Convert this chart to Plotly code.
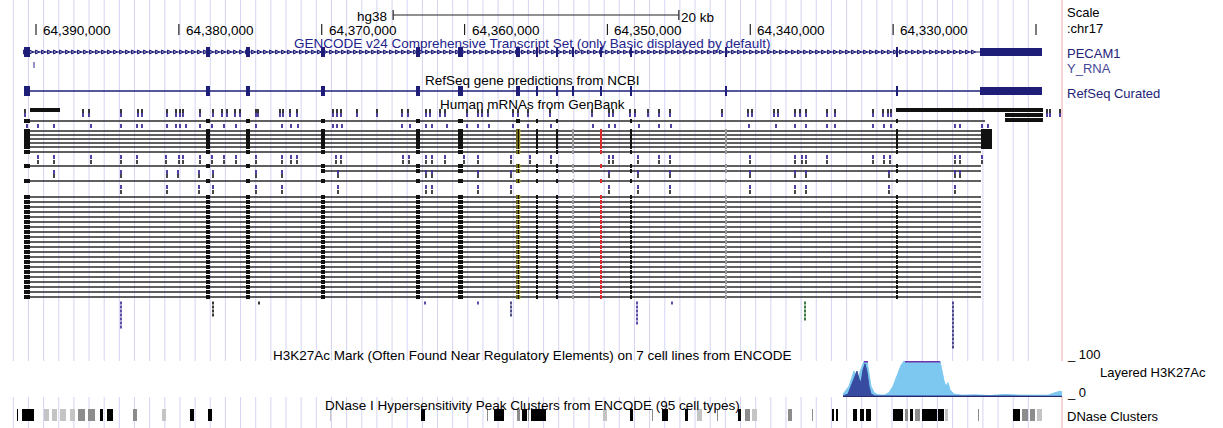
import numpy as np
import plotly.graph_objects as go

W, H = 1223, 428
FONT = "Liberation Sans, Arial, sans-serif"

# ---------------- data (genomic positions in kb on chr17) ----------------
position_ticks_kb = [64390, 64380, 64370, 64360, 64350, 64340, 64330, 64320]
position_tick_labels = ["64,390,000", "64,380,000", "64,370,000", "64,360,000",
                        "64,350,000", "64,340,000", "64,330,000", ""]
scale_bar_kb = [64365.0, 64345.0]

gene_span_kb = [64390.84, 64319.58]
gene_exon_start = [64390.84, 64378.10, 64375.30, 64370.05, 64363.40, 64360.46, 64356.40,
                   64355.00, 64353.60, 64352.48, 64350.52, 64348.42, 64341.77, 64329.80]
gene_exon_end = [64390.42, 64377.82, 64375.02, 64369.77, 64363.12, 64360.11, 64356.12,
                 64354.86, 64353.46, 64352.34, 64350.38, 64348.28, 64341.63, 64329.66]
gene_block_kb = [64323.92, 64319.58]
y_rna_kb = [64390.20, 64390.08]

mrna_exon_start = [64390.84, 64378.10, 64375.30, 64370.05, 64363.40, 64360.46, 64356.40,
                   64355.00, 64353.60, 64348.42, 64329.80]
mrna_exon_end = [64390.42, 64377.82, 64375.02, 64369.77, 64363.12, 64360.11, 64356.12,
                 64354.86, 64353.46, 64348.28, 64329.66]
mrna_red_kb = [64350.52, 64350.38]
mrna_gray_start = [64352.48, 64341.77]
mrna_gray_end = [64352.34, 64341.63]
mrna_yellow_start = [64356.36, 64356.16]
mrna_yellow_end = [64356.30, 64356.10]
mrna_line_end_kb = 64323.85
mrna_end_block_kb = [64323.85, 64323.08]
mrna_top_bars_start = [64390.42, 64329.80, 64322.17, 64322.17]
mrna_top_bars_end = [64388.32, 64319.51, 64319.51, 64319.51]

marks_row_a = [64390.77, 64386.71, 64386.29, 64384.05, 64382.86, 64382.58, 64380.83, 64380.20,
               64379.92, 64379.71, 64378.52, 64377.61, 64376.98, 64376.63, 64376.07, 64375.72,
               64374.60, 64374.46, 64372.92, 64372.71, 64372.22, 64371.73, 64369.21, 64368.93,
               64368.65, 64367.53, 64366.13, 64364.38, 64363.96, 64362.70, 64362.42, 64361.72,
               64361.37, 64359.83, 64359.06, 64358.78, 64358.36, 64356.61, 64356.26, 64355.56,
               64354.02, 64351.08, 64349.89, 64349.61, 64348.42, 64348.07, 64347.16, 64346.39,
               64345.62, 64341.98, 64340.16, 64339.88, 64338.34, 64338.06, 64336.87, 64336.52,
               64336.10, 64334.63, 64334.07, 64331.41, 64330.71, 64330.36, 64330.15, 64319.23,
               64319.02, 64318.32]
marks_row_b = [64390.63, 64389.86, 64388.74, 64386.15, 64384.05, 64382.93, 64382.58, 64380.83,
               64380.20, 64379.92, 64379.50, 64378.52, 64377.68, 64376.84, 64376.00, 64374.60,
               64372.78, 64372.15, 64371.66, 64369.21, 64368.93, 64368.58, 64364.38, 64363.82,
               64362.70, 64362.28, 64361.23, 64359.83, 64359.06, 64358.29, 64356.61, 64355.56,
               64353.95, 64351.01, 64349.89, 64349.47, 64347.79, 64346.39, 64345.55, 64340.09,
               64338.20, 64336.87, 64336.10, 64334.63, 64334.07, 64331.41, 64330.64, 64330.15,
               64325.67, 64325.32, 64323.78, 64323.36]
marks_row_c = [64389.86, 64388.74, 64386.15, 64384.05, 64382.93, 64380.90, 64379.99, 64379.71,
               64378.52, 64377.68, 64376.84, 64376.00, 64374.60, 64372.78, 64372.15, 64371.73,
               64369.00, 64368.65, 64364.31, 64363.89, 64362.70, 64362.28, 64361.37, 64360.04,
               64359.06, 64356.75, 64355.42, 64353.95, 64349.89, 64349.61, 64347.86, 64346.39,
               64345.62, 64340.02, 64336.87, 64336.38, 64336.10, 64334.63, 64331.41, 64330.64,
               64330.22, 64325.67, 64325.32, 64323.78]
marks_row_d = [64388.74, 64384.05, 64380.83, 64380.06, 64378.59, 64377.61, 64374.60, 64372.78,
               64368.86, 64362.70, 64362.28, 64359.06, 64356.75, 64349.89, 64347.86, 64345.62,
               64340.02, 64336.87, 64336.10, 64330.29, 64325.67, 64325.32]
marks_row_e = [64384.05, 64380.83, 64378.59, 64377.61, 64374.60, 64372.78, 64368.86, 64362.70,
               64362.28, 64359.06, 64356.75, 64349.89, 64347.86, 64345.62, 64340.02, 64336.87,
               64336.10, 64330.29, 64325.67]
stack_kb = [64384.05, 64377.61, 64374.39, 64362.77, 64359.06, 64356.75, 64347.93, 64345.48,
            64336.17, 64325.81]
stack_count = [7, 4, 1, 1, 1, 4, 6, 1, 5, 12]
stack_color = ["#4b3aa0", "#222222", "#222222", "#4b3aa0", "#4b3aa0", "#3a3a7a", "#4b3aa0",
               "#4b3aa0", "#2f6a2f", "#3d3580"]

h3k27ac_light_kb = [64333.51, 64333.30, 64333.09, 64332.88, 64332.74, 64332.60, 64332.46,
                    64332.32, 64332.18, 64332.04, 64331.83, 64331.69, 64331.55, 64331.34,
                    64331.06, 64330.64, 64330.29, 64330.01, 64329.73, 64329.45, 64329.24,
                    64327.84, 64327.77, 64327.70, 64326.72, 64326.58, 64326.44, 64326.30,
                    64326.16, 64326.02, 64325.74, 64325.18, 64324.27, 64323.22, 64322.17,
                    64321.12, 64320.07, 64319.16, 64318.67, 64318.32, 64318.18]
h3k27ac_light_val = [8, 18, 30, 55, 72, 60, 45, 70, 85, 100, 100, 60, 30, 12, 6, 5, 12, 30, 60,
                     88, 100, 100, 92, 100, 100, 70, 45, 30, 40, 20, 8, 5, 6, 4, 7, 5, 6, 5, 12,
                     16, 14]
h3k27ac_dark_kb = [64333.51, 64333.16, 64332.95, 64332.81, 64332.67, 64332.53, 64332.39,
                   64332.25, 64332.11, 64331.97, 64331.83, 64331.69, 64331.55, 64331.27,
                   64329.52, 64326.02, 64322.52, 64318.18]
h3k27ac_dark_val = [3, 8, 30, 45, 60, 72, 50, 40, 75, 92, 70, 30, 8, 3, 3, 2, 3, 2]
h3k27ac_clip_start = [64332.04, 64329.17]
h3k27ac_clip_end = [64331.76, 64326.72]

dnase_start = [64391.33, 64390.98, 64389.44, 64388.88, 64388.32, 64387.62, 64387.06, 64386.36,
               64385.52, 64385.03, 64383.21, 64381.18, 64379.22, 64377.96, 64369.42, 64363.05,
               64358.43, 64357.94, 64356.33, 64355.98, 64355.56, 64355.35, 64350.31, 64348.42,
               64346.88, 64346.18, 64344.57, 64343.73, 64342.33, 64340.86, 64340.37, 64339.88,
               64337.36, 64335.68, 64334.28, 64334.00, 64332.81, 64332.32, 64331.90, 64330.01,
               64329.17, 64328.82, 64328.47, 64327.98, 64326.86, 64326.37, 64324.06, 64321.61,
               64320.98, 64320.42, 64319.93]
dnase_end = [64391.26, 64390.14, 64389.09, 64388.53, 64387.90, 64387.27, 64386.57, 64385.87,
             64385.31, 64384.61, 64382.93, 64380.90, 64378.94, 64377.68, 64369.35, 64362.77,
             64358.36, 64357.24, 64356.12, 64355.63, 64355.49, 64354.30, 64350.03, 64348.21,
             64346.81, 64345.76, 64344.36, 64343.38, 64342.26, 64340.65, 64340.02, 64339.53,
             64337.08, 64335.61, 64334.14, 64333.86, 64332.53, 64332.04, 64331.55, 64329.31,
             64328.96, 64328.61, 64328.12, 64326.93, 64326.44, 64326.16, 64323.99, 64321.12,
             64320.56, 64320.07, 64319.58]
dnase_score = [1000, 1000, 250, 250, 250, 250, 500, 500, 1000, 1000, 500, 250, 1000, 1000, 250,
               1000, 500, 1000, 500, 1000, 500, 1000, 250, 1000, 500, 1000, 1000, 250, 500, 1000,
               500, 250, 500, 500, 1000, 1000, 1000, 1000, 1000, 1000, 500, 1000, 500, 1000,
               1000, 250, 500, 1000, 500, 500, 250]

# ---------------- layout constants (pixel rows) ----------------
X_LEFT_KB = 64392.52
X_RIGHT_KB = X_LEFT_KB - W * 0.07
Y_TICK = 30
Y_GENE = 52
Y_REFSEQ = 91
UPPER_ROWS = [121, 131, 135, 139, 143, 147, 152, 166, 171, 181]
LOWER_ROWS = [197, 202, 207, 212, 217, 222, 227, 232, 237, 242, 247, 252, 257, 262, 267,
              272, 277, 282, 287, 292, 297]
ALL_ROWS = UPPER_ROWS + LOWER_ROWS


def px(p):
    return p / W


def rects(x0s, x1s, y0s, y1s, color):
    xs, ys = [], []
    for a, b, c, d in zip(x0s, x1s, y0s, y1s):
        xs += [a, b, b, a, a, None]
        ys += [c, c, d, d, c, None]
    return go.Scatter(x=xs, y=ys, mode="lines", fill="toself", fillcolor=color,
                      line=dict(width=0, color=color), hoverinfo="skip", showlegend=False)


def segs(x0s, x1s, ys, color, width):
    xs, yy = [], []
    for a, b, c in zip(x0s, x1s, ys):
        xs += [a, b, None]
        yy += [c, c, None]
    return go.Scatter(x=xs, y=yy, mode="lines", line=dict(color=color, width=width),
                      hoverinfo="skip", showlegend=False)


def vsegs(xs_in, y0s, y1s, color, width):
    xs, yy = [], []
    for a, c, d in zip(xs_in, y0s, y1s):
        xs += [a, a, None]
        yy += [c, d, None]
    return go.Scatter(x=xs, y=yy, mode="lines", line=dict(color=color, width=width),
                      hoverinfo="skip", showlegend=False)


def marks(xs, y, color, size=3):
    return go.Scatter(x=xs, y=[y] * len(xs), mode="markers",
                      marker=dict(symbol="line-ns", size=size, color=color,
                                  line=dict(color=color, width=1.8)),
                      hoverinfo="skip", showlegend=False)


fig = go.Figure()

# background guidelines (pixel spaced, like the browser)
grid_x = [X_LEFT_KB - (13.3 + 15.15 * k) * 0.07 for k in range(68)]
fig.add_trace(vsegs(grid_x, [0] * len(grid_x), [H] * len(grid_x), "rgb(212,212,243)", 1))
fig.add_trace(vsegs([X_LEFT_KB - 1062 * 0.07], [0], [H], "rgb(240,170,170)", 1))

# position ticks
fig.add_trace(vsegs(position_ticks_kb, [Y_TICK - 6] * 8, [Y_TICK + 5] * 8, "#222", 1.2))
# scale bar
fig.add_trace(segs([scale_bar_kb[0]], [scale_bar_kb[1]], [15], "#222", 1.2))
fig.add_trace(vsegs(scale_bar_kb, [10, 10], [20, 20], "#222", 1.2))

# GENCODE gene
NAVY = "rgb(30,30,120)"
fig.add_trace(segs([gene_span_kb[0]], [gene_span_kb[1]], [Y_GENE], NAVY, 1.2))
chev = list(np.arange(gene_span_kb[0] - 0.25, gene_block_kb[0], -0.42))
fig.add_trace(go.Scatter(x=chev, y=[Y_GENE] * len(chev), mode="markers",
                         marker=dict(symbol="arrow-right-open", size=4, color=NAVY,
                                     line=dict(color=NAVY, width=1)),
                         hoverinfo="skip", showlegend=False))
n = len(gene_exon_start)
fig.add_trace(rects(gene_exon_start, gene_exon_end, [Y_GENE - 5] * n, [Y_GENE + 5] * n, NAVY))
fig.add_trace(rects([gene_block_kb[0]], [gene_block_kb[1]], [Y_GENE - 4], [Y_GENE + 4], NAVY))
fig.add_trace(rects([y_rna_kb[0]], [y_rna_kb[1]], [62], [68], "rgb(130,130,190)"))

# RefSeq curated
fig.add_trace(segs([gene_span_kb[0]], [gene_span_kb[1]], [Y_REFSEQ], NAVY, 1.4))
fig.add_trace(rects(gene_exon_start, gene_exon_end, [Y_REFSEQ - 5] * n, [Y_REFSEQ + 5] * n, NAVY))
fig.add_trace(rects([gene_block_kb[0]], [gene_block_kb[1]], [Y_REFSEQ - 4], [Y_REFSEQ + 4], NAVY))

# mRNA alignments
line_start = [gene_span_kb[0]] * len(ALL_ROWS)
line_start[UPPER_ROWS.index(171)] = 64369.91
line_end = [mrna_line_end_kb] * len(ALL_ROWS)
line_end[0] = 64323.57
fig.add_trace(segs(line_start, line_end, ALL_ROWS, "#2a2a2a", 1.5))

ex0, ex1, ey0, ey1 = [], [], [], []
for i, r in enumerate(ALL_ROWS):
    for a, b in zip(mrna_exon_start, mrna_exon_end):
        if b > line_start[i] + 0.3:
            continue
        ex0.append(a); ex1.append(b); ey0.append(r - 2); ey1.append(r + 2)
fig.add_trace(rects(ex0, ex1, ey0, ey1, "#111"))

end_rows = [131, 135, 139, 143, 147]
fig.add_trace(rects([mrna_end_block_kb[0]] * 5, [mrna_end_block_kb[1]] * 5,
                    [r - 2 for r in end_rows], [r + 2 for r in end_rows], "#111"))
fig.add_trace(rects(mrna_top_bars_start, mrna_top_bars_end, [108, 108, 113, 118],
                    [112, 112, 117, 122], "#111"))

gx0, gx1, gy0, gy1 = [], [], [], []
for r in ALL_ROWS[1:]:
    for a, b in zip(mrna_gray_start, mrna_gray_end):
        gx0.append(a); gx1.append(b); gy0.append(r - 2); gy1.append(r + 2)
fig.add_trace(rects(gx0, gx1, gy0, gy1, "#9a9a9a"))

red_rows = [r for r in ALL_ROWS[1:] if r != 171]
fig.add_trace(rects([mrna_red_kb[0]] * len(red_rows), [mrna_red_kb[1]] * len(red_rows),
                    [r - 2 for r in red_rows], [r + 2 for r in red_rows], "rgb(220,40,40)"))
yx0, yx1, yy0, yy1 = [], [], [], []
for r in ALL_ROWS[1:]:
    for a, b in zip(mrna_yellow_start, mrna_yellow_end):
        yx0.append(a); yx1.append(b); yy0.append(r - 2); yy1.append(r + 2)
fig.add_trace(rects(yx0, yx1, yy0, yy1, "rgb(235,215,40)"))

# partial alignment marks
PUR = "rgb(60,45,150)"
fig.add_trace(marks(marks_row_a, 111, "#222"))
fig.add_trace(marks(marks_row_a, 115, PUR))
fig.add_trace(marks(marks_row_b, 126, PUR))
fig.add_trace(marks(marks_row_c, 157, PUR))
fig.add_trace(marks(marks_row_c, 162, "#333"))
fig.add_trace(marks(marks_row_d, 172, PUR))
fig.add_trace(marks(marks_row_d, 176, "#333"))
fig.add_trace(marks(marks_row_e, 187, PUR))
fig.add_trace(marks(marks_row_e, 192, "#333"))

for xk, cnt, col in zip(stack_kb, stack_count, stack_color):
    fig.add_trace(go.Scatter(x=[xk] * cnt, y=[303 + 4 * j for j in range(cnt)],
                             mode="markers",
                             marker=dict(symbol="line-ns", size=2.2, color=col,
                                         line=dict(color=col, width=1.8)),
                             hoverinfo="skip", showlegend=False))

# H3K27Ac signal (yaxis2)
fig.add_trace(go.Scatter(x=h3k27ac_light_kb, y=h3k27ac_light_val, mode="lines", fill="tozeroy",
                         fillcolor="rgb(125,200,240)", line=dict(color="rgb(125,200,240)", width=1),
                         yaxis="y2", hoverinfo="skip", showlegend=False))
fig.add_trace(go.Scatter(x=h3k27ac_dark_kb, y=h3k27ac_dark_val, mode="lines", fill="tozeroy",
                         fillcolor="rgb(55,75,160)", line=dict(color="rgb(55,75,160)", width=1),
                         yaxis="y2", hoverinfo="skip", showlegend=False))
fig.add_trace(go.Scatter(x=[h3k27ac_light_kb[0], h3k27ac_light_kb[-1]], y=[1, 1], mode="lines",
                         line=dict(color="rgb(40,40,110)", width=1.5), yaxis="y2",
                         hoverinfo="skip", showlegend=False))
cx, cy = [], []
for a, b in zip(h3k27ac_clip_start, h3k27ac_clip_end):
    cx += [a, b, None]; cy += [100, 100, None]
fig.add_trace(go.Scatter(x=cx, y=cy, mode="lines", line=dict(color="rgb(110,50,170)", width=3),
                         yaxis="y2", hoverinfo="skip", showlegend=False))

# DNase clusters
shade = {1000: "#000000", 500: "#8c8c8c", 250: "#c4c4c4"}
for s in (250, 500, 1000):
    idx = [i for i, v in enumerate(dnase_score) if v == s]
    fig.add_trace(rects([dnase_start[i] for i in idx], [dnase_end[i] for i in idx],
                        [409] * len(idx), [421] * len(idx), shade[s]))

# ---------------- texts ----------------
ann = []


def text(x, y, t, size=13, color="#000", anchor="left"):
    ann.append(dict(x=x, y=y, xref="paper", yref="y", text=t, showarrow=False,
                    xanchor=anchor, yanchor="middle",
                    font=dict(family=FONT, size=size, color=color)))


for kb, lab in zip(position_ticks_kb, position_tick_labels):
    if lab:
        ann.append(dict(x=kb, y=Y_TICK, xref="x", yref="y", text=lab, showarrow=False,
                        xanchor="left", yanchor="middle", xshift=5,
                        font=dict(family=FONT, size=13.5, color="#000")))
ann.append(dict(x=scale_bar_kb[0], y=16, xref="x", yref="y", text="hg38", showarrow=False,
                xanchor="right", yanchor="middle", xshift=-4,
                font=dict(family=FONT, size=13.5, color="#000")))
ann.append(dict(x=scale_bar_kb[1], y=17, xref="x", yref="y", text="20 kb", showarrow=False,
                xanchor="left", yanchor="middle", xshift=0,
                font=dict(family=FONT, size=13.5, color="#000")))

CX = px(532)
text(CX, 43, "GENCODE v24 Comprehensive Transcript Set (only Basic displayed by default)",
     13.5, "rgb(35,35,140)", "center")
text(CX, 80, "RefSeq gene predictions from NCBI", 13.5, "#000", "center")
text(CX, 104, "Human mRNAs from GenBank", 13.5, "#000", "center")
text(CX, 355, "H3K27Ac Mark (Often Found Near Regulatory Elements) on 7 cell lines from ENCODE",
     13.5, "#000", "center")
text(CX, 405, "DNase I Hypersensitivity Peak Clusters from ENCODE (95 cell types)",
     13.5, "#000", "center")

RX = px(1065)
text(RX, 12, "Scale", 13)
text(RX, 28, ":chr17", 13)
text(RX, 53, "PECAM1", 13, "rgb(35,35,120)")
text(RX, 68, "Y_RNA", 13, "rgb(70,70,150)")
text(RX, 93, "RefSeq Curated", 13, "rgb(35,35,120)")
text(RX, 354, "_ 100", 13)
text(px(1098), 372, "Layered H3K27Ac", 13)
text(RX, 392, "_ 0", 13)
text(RX, 416, "DNase Clusters", 13)

fig.update_layout(
    width=W, height=H, margin=dict(l=0, r=0, t=0, b=0),
    paper_bgcolor="white", plot_bgcolor="white",
    xaxis=dict(range=[X_LEFT_KB, X_RIGHT_KB], visible=False, fixedrange=True),
    yaxis=dict(range=[H, 0], visible=False, fixedrange=True),
    yaxis2=dict(domain=[1 - 397 / H, 1 - 361 / H], range=[0, 100], visible=False,
                anchor="x", fixedrange=True),
    annotations=ann, showlegend=False,
)

fig.write_html("out.html", config={"displayModeBar": False},
               post_script="document.body.style.margin='0px';document.body.style.overflow='hidden';")
